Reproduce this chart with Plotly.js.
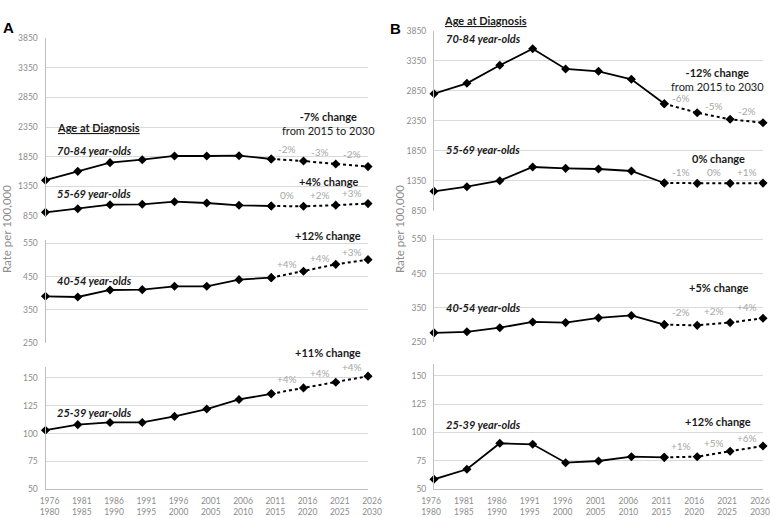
<!DOCTYPE html>
<html>
<head>
<meta charset="utf-8">
<script src="https://cdn.plot.ly/plotly-3.0.1.min.js"></script>
<style>
  html, body { margin: 0; padding: 0; background: #fff; }
  #chart { width: 770px; height: 518px; }
</style>
</head>
<body>
<div id="chart"></div>
<script>
// periods (two-line tick labels)
const periodStart = [1976, 1981, 1986, 1991, 1996, 2001, 2006, 2011, 2016, 2021, 2026];
const periodEnd   = [1980, 1985, 1990, 1995, 2000, 2005, 2010, 2015, 2020, 2025, 2030];

// panel A rates per 100,000
const a70 = [1450, 1600, 1747, 1797, 1860, 1860, 1865, 1809, 1775, 1724, 1680];
const a55 = [908, 968, 1036, 1043, 1087, 1065, 1026, 1014, 1009, 1028, 1055];
const a40 = [391, 389, 410, 411, 421, 421, 441, 447, 466, 487, 501];
const a25 = [103, 108, 110, 110, 115.4, 122, 130.6, 135.7, 141, 146, 151.5];

// panel B rates per 100,000
const b70 = [2800, 2973, 3273, 3550, 3212, 3173, 3040, 2633, 2483, 2373, 2317];
const b55 = [1173, 1250, 1350, 1578, 1556, 1545, 1512, 1312, 1306, 1306, 1310];
const b40 = [276, 279, 291, 308, 306, 320, 327, 300, 298, 306, 319];
const b25 = [58.8, 67.6, 90.5, 89.6, 73.4, 74.9, 78.7, 78.1, 78.7, 83.5, 88.1];

// projected step changes (between successive projected periods)
const a70Pct = ['-2%', '-3%', '-2%'];
const a55Pct = ['0%', '+2%', '+3%'];
const a40Pct = ['+4%', '+4%', '+3%'];
const a25Pct = ['+4%', '+4%', '+4%'];
const b70Pct = ['-6%', '-5%', '-2%'];
const b55Pct = ['-1%', '0%', '+1%'];
const b40Pct = ['-2%', '+2%', '+4%'];
const b25Pct = ['+1%', '+5%', '+6%'];

const ageGroups = ['70-84 year-olds', '55-69 year-olds', '40-54 year-olds', '25-39 year-olds'];
const aChange = ['-7% change', '+4% change', '+12% change', '+11% change'];
const bChange = ['-12% change', '0% change', '+5% change', '+12% change'];

const labels = periodStart.map((s, i) => s + '<br>' + periodEnd[i]);
const idx = periodStart.map((_, i) => i);
const LAST_OBS = 7;

const W = 770, H = 518;
const px = v => v / W;
const py = v => 1 - v / H;

const FONT = 'Lato, "Open Sans", sans-serif';
const GRID = '#d9d9d9';
const TICK = '#8c8c8c';

function seriesTraces(vals, xa, ya) {
  const solid = {
    x: idx.slice(0, LAST_OBS + 1), y: vals.slice(0, LAST_OBS + 1),
    xaxis: xa, yaxis: ya, type: 'scatter', mode: 'lines+markers',
    line: { color: '#000', width: 1.8 },
    marker: { symbol: 'diamond', size: 7, color: '#000' },
    cliponaxis: false, hoverinfo: 'skip'
  };
  const proj = {
    x: idx.slice(LAST_OBS), y: vals.slice(LAST_OBS),
    xaxis: xa, yaxis: ya, type: 'scatter', mode: 'lines+markers',
    line: { color: '#000', width: 2, dash: 'dot' },
    marker: { symbol: 'diamond', size: 7, color: '#000' },
    cliponaxis: false, hoverinfo: 'skip'
  };
  return [solid, proj];
}

const data = [
  ...seriesTraces(a70, 'x', 'y'),
  ...seriesTraces(a55, 'x', 'y'),
  ...seriesTraces(a40, 'x', 'y2'),
  ...seriesTraces(a25, 'x', 'y3'),
  ...seriesTraces(b70, 'x2', 'y4'),
  ...seriesTraces(b55, 'x2', 'y4'),
  ...seriesTraces(b40, 'x2', 'y5'),
  ...seriesTraces(b25, 'x2', 'y6')
];

function xAxis(domain, anchor, shift) {
  return {
    domain: domain, anchor: anchor, range: [0, 10],
    tickmode: 'array', tickvals: idx, ticktext: labels,
    showgrid: false, zeroline: false, showline: true, linecolor: '#bfbfbf',
    ticks: 'outside', ticklen: 3, tickcolor: 'rgba(0,0,0,0)',
    ticklabelshift: shift, ticklabeloverflow: 'allow',
    tickfont: { family: FONT, size: 8.5, color: TICK }, fixedrange: true
  };
}
function yAxis(domain, range, tickvals, anchor) {
  return {
    domain: domain, range: range, anchor: anchor,
    tickmode: 'array', tickvals: tickvals,
    showgrid: true, gridcolor: GRID, gridwidth: 1, zeroline: false,
    showline: true, linecolor: '#bfbfbf',
    ticks: 'outside', ticklen: 5, tickcolor: 'rgba(0,0,0,0)',
    tickfont: { family: FONT, size: 8.5, color: TICK }, fixedrange: true
  };
}

const topTicks = [850, 1350, 1850, 2350, 2850, 3350, 3850];
const midTicks = [250, 350, 450, 550];
const lowTicks = [50, 75, 100, 125, 150];

const annotations = [];
function note(x, y, text, opts) {
  annotations.push(Object.assign({
    xref: 'paper', yref: 'paper', x: px(x), y: py(y), text: text,
    showarrow: false, xanchor: 'left', yanchor: 'middle',
    font: { family: FONT, size: 11, color: '#1a1a1a' }
  }, opts || {}));
}
function pctLabels(vals, pcts, xa, ya, shift) {
  pcts.forEach((t, i) => {
    const k = LAST_OBS + i;
    annotations.push({
      xref: xa, yref: ya, x: k + 0.5, y: (vals[k] + vals[k + 1]) / 2,
      yshift: shift, text: t, showarrow: false, xanchor: 'center', yanchor: 'bottom',
      font: { family: FONT, size: 10, color: '#a6a6a6' }
    });
  });
}

const changeFont = { family: FONT, size: 11, color: '#1a1a1a' };

// panel letters
note(8, 27, '<b>A</b>', { xanchor: 'center', font: { family: 'Liberation Sans, Arial, sans-serif', size: 15, color: '#000' } });
note(395, 28, '<b>B</b>', { xanchor: 'center', font: { family: 'Liberation Sans, Arial, sans-serif', size: 15, color: '#000' } });

// y axis titles
note(6, 229, 'Rate per 100,000', { xanchor: 'center', textangle: -90, font: { family: FONT, size: 11.5, color: TICK } });
note(399, 229, 'Rate per 100,000', { xanchor: 'center', textangle: -90, font: { family: FONT, size: 11.5, color: TICK } });

// panel A labels
note(55, 128, '<b><u>Age at Diagnosis</u></b>');
note(55, 150, '<b><i>' + ageGroups[0] + '</i></b>');
note(55, 194, '<b><i>' + ageGroups[1] + '</i></b>');
note(55, 280, '<b><i>' + ageGroups[2] + '</i></b>');
note(55, 412, '<b><i>' + ageGroups[3] + '</i></b>');
note(328, 124, '<b>' + aChange[0] + '</b><br>from 2015 to 2030', { xanchor: 'center', font: changeFont });
note(328, 181, '<b>' + aChange[1] + '</b>', { xanchor: 'center', font: changeFont });
note(328, 235, '<b>' + aChange[2] + '</b>', { xanchor: 'center', font: changeFont });
note(328, 352, '<b>' + aChange[3] + '</b>', { xanchor: 'center', font: changeFont });

// panel B labels
note(442, 20, '<b><u>Age at Diagnosis</u></b>');
note(444, 39, '<b><i>' + ageGroups[0] + '</i></b>');
note(444, 149, '<b><i>' + ageGroups[1] + '</i></b>');
note(444, 307, '<b><i>' + ageGroups[2] + '</i></b>');
note(444, 424, '<b><i>' + ageGroups[3] + '</i></b>');
note(717, 79, '<b>' + bChange[0] + '</b><br>from 2015 to 2030', { xanchor: 'center', font: changeFont });
note(718, 159, '<b>' + bChange[1] + '</b>', { xanchor: 'center', font: changeFont });
note(718, 287, '<b>' + bChange[2] + '</b>', { xanchor: 'center', font: changeFont });
note(718, 421, '<b>' + bChange[3] + '</b>', { xanchor: 'center', font: changeFont });

pctLabels(a70, a70Pct, 'x', 'y', 3);
pctLabels(a55, a55Pct, 'x', 'y', 3);
pctLabels(a40, a40Pct, 'x', 'y2', 2);
pctLabels(a25, a25Pct, 'x', 'y3', 4);
pctLabels(b70, b70Pct, 'x2', 'y4', 2);
pctLabels(b55, b55Pct, 'x2', 'y4', 3);
pctLabels(b40, b40Pct, 'x2', 'y5', 5);
pctLabels(b25, b25Pct, 'x2', 'y6', 3);

const layout = {
  width: W, height: H,
  margin: { l: 0, r: 0, t: 0, b: 0 },
  paper_bgcolor: '#fff', plot_bgcolor: '#fff',
  showlegend: false, hovermode: false,
  font: { family: FONT },
  xaxis: xAxis([px(45.5), px(368)], 'y3', 4),
  xaxis2: xAxis([px(434), px(763)], 'y6', -3),
  yaxis: yAxis([py(215.7), py(38.3)], [850, 3850], topTicks, 'x'),
  yaxis2: yAxis([py(343.3), py(240)], [250, 560], midTicks, 'x'),
  yaxis3: yAxis([py(489.3), py(366.7)], [50, 160], lowTicks, 'x'),
  yaxis4: yAxis([py(210.7), py(30.7)], [850, 3850], topTicks, 'x2'),
  yaxis5: yAxis([py(341.7), py(235)], [250, 563], midTicks, 'x2'),
  yaxis6: yAxis([py(489.3), py(364.3)], [50, 160], lowTicks, 'x2'),
  annotations: annotations
};

Plotly.newPlot('chart', data, layout, { displayModeBar: false, staticPlot: true });
</script>
</body>
</html>
